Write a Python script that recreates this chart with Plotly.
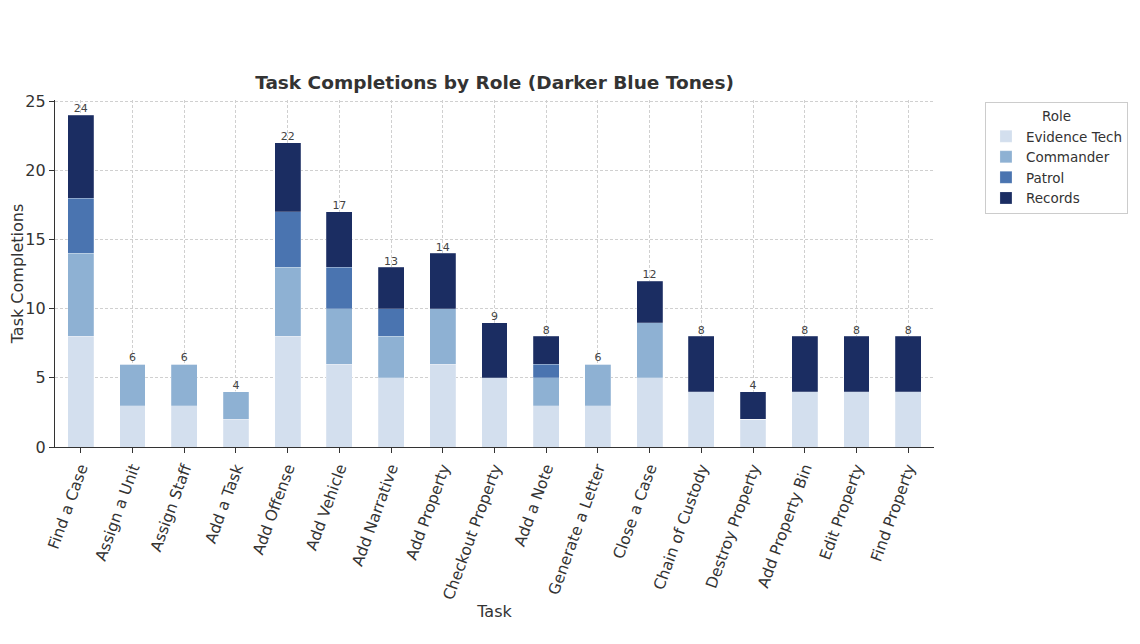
import plotly.graph_objects as go

tasks = ["Find a Case", "Assign a Unit", "Assign Staff", "Add a Task", "Add Offense",
         "Add Vehicle", "Add Narrative", "Add Property", "Checkout Property", "Add a Note",
         "Generate a Letter", "Close a Case", "Chain of Custody", "Destroy Property",
         "Add Property Bin", "Edit Property", "Find Property"]
evidence_tech = [8, 3, 3, 2, 8, 6, 5, 6, 5, 3, 3, 5, 4, 2, 4, 4, 4]
commander     = [6, 3, 3, 2, 5, 4, 3, 4, 0, 2, 3, 4, 0, 0, 0, 0, 0]
patrol        = [4, 0, 0, 0, 4, 3, 2, 0, 0, 1, 0, 0, 0, 0, 0, 0, 0]
records       = [6, 0, 0, 0, 5, 4, 3, 4, 4, 2, 0, 3, 4, 2, 4, 4, 4]
roles = ["Evidence Tech", "Commander", "Patrol", "Records"]
colors = ["#d3dfee", "#8eb1d3", "#4a74b0", "#1b2d62"]

series = [evidence_tech, commander, patrol, records]
totals = [sum(v) for v in zip(*series)]

fig = go.Figure()
for name, vals, col in zip(roles, series, colors):
    fig.add_trace(go.Bar(x=tasks, y=vals, name=name,
                         marker=dict(color=col, line=dict(width=0.6, color="rgba(255,255,255,0.35)")),
                         width=0.5))

fig.add_trace(go.Scatter(x=tasks, y=totals, mode="text", text=[str(t) for t in totals],
                         textposition="top center", textfont=dict(size=11, color="#444444"),
                         showlegend=False, hoverinfo="skip", cliponaxis=False))

font_family = "DejaVu Sans"
fig.update_layout(
    width=1140, height=644,
    barmode="stack",
    paper_bgcolor="white", plot_bgcolor="white",
    margin=dict(l=47, r=214, t=92, b=205),
    font=dict(family=font_family, color="#333333"),
    title=dict(text="<b>Task Completions by Role (Darker Blue Tones)</b>", xref="paper", x=0.5,
               xanchor="center", y=0.884, yanchor="middle", font=dict(size=18.5, color="#333333")),
    legend=dict(title=dict(text="Role", side="top center", font=dict(size=13.5)),
                x=1.058, xanchor="left", y=0.993, yanchor="top",
                bordercolor="#cccccc", borderwidth=1, font=dict(size=13.5),
                traceorder="normal", itemwidth=30, tracegroupgap=0),
    xaxis=dict(title=dict(text="Task", font=dict(size=16), standoff=1),
               tickangle=-70, tickfont=dict(size=15.5, color="#333333"), automargin=False,
               range=[-0.5, 16.5], showgrid=True, gridcolor="#d0d0d0", griddash="3px,2px", gridwidth=1,
               showline=True, linecolor="#333333", linewidth=1.2,
               ticks="outside", ticklen=5, tickcolor="#333333", layer="above traces"),
    yaxis=dict(title=dict(text="Task Completions", font=dict(size=16), standoff=1),
               range=[0, 25.1], dtick=5, tickfont=dict(size=16, color="#333333"), automargin=False,
               showgrid=True, gridcolor="#d0d0d0", griddash="3px,2px", gridwidth=1,
               showline=True, linecolor="#333333", linewidth=1.2, zeroline=False,
               ticks="outside", ticklen=5, tickcolor="#333333", layer="above traces"),
)

fig.write_html("out.html")
